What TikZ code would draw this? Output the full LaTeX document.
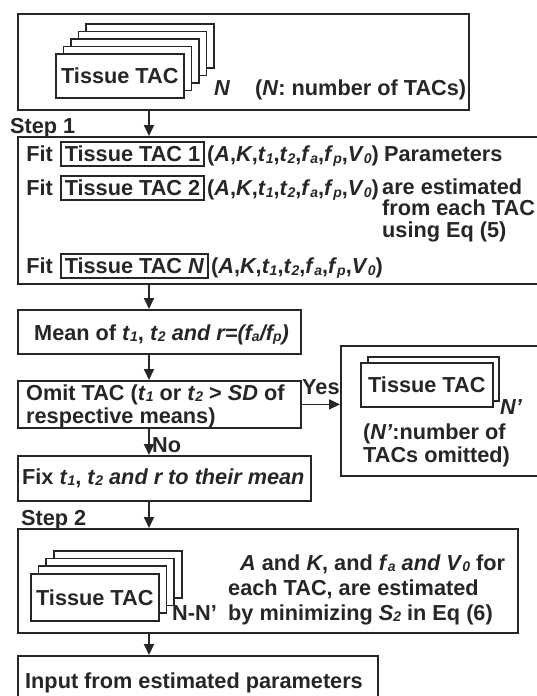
\documentclass[tikz,border=0pt]{standalone}
\usepackage{fontspec}
\setmainfont{Liberation Sans}
\usetikzlibrary{arrows.meta}
\definecolor{ink}{HTML}{262626}
\newcommand\vv[1]{\textit{#1}}
\newcommand\sbs[1]{\raisebox{-0.15ex}{\fontsize{14}{14}\selectfont\textit{#1}}}
\newcommand\parlist{(\vv{A},\vv{K},\vv{t}\sbs{1},\vv{t}\sbs{2},\vv{f}\sbs{a},\vv{f}\sbs{p},\vv{V}\sbs{0})}
\begin{document}
\begin{tikzpicture}[x=1pt,y=-1pt,
  font=\fontsize{21.7}{23}\selectfont\bfseries,
  box/.style={draw=ink, line width=1.8pt, fill=white, inner sep=0pt, anchor=north west, rectangle},
  card/.style={draw=ink, line width=1.6pt, fill=white, inner sep=0pt, anchor=north west, rectangle, text=ink},
  tb/.style={draw=ink, line width=1.5pt, inner xsep=4pt, inner ysep=0pt, minimum height=24pt, anchor=west, text=ink},
  txt/.style={anchor=base west, inner sep=0pt, text=ink},
  arr/.style={draw=ink, line width=1.8pt, -{Triangle[length=11pt,width=10pt]}}]
\useasboundingbox[fill=white] (0,0) rectangle (537,696);

% ---------- top box ----------
\node[box, minimum width=451pt, minimum height=96pt] (top) at (17,13) {};
\foreach \k in {4,3,2,1}
  \node[card, minimum width=128pt, minimum height=44pt] (tc\k) at ({55+7.5*\k},{53-7.5*\k}) {};
\node[card, minimum width=128pt, minimum height=44pt] (tc0) at (55,53) {Tissue TAC};
\node[txt] (tN) at (214,95) {\vv{N}};
\node[txt] (tNl) at (255,95) {(\vv{N}: number of TACs)};

% ---------- step 1 ----------
\node[txt] (st1) at (10,133) {Step 1};
\node[box, minimum width=560pt, minimum height=147pt] (s1) at (17,136) {};
\node[tb] (tac1) at (60,154) {Tissue TAC 1};
\node[tb] (tac2) at (60,188) {Tissue TAC 2};
\node[tb] (tacN) at (60,266) {Tissue TAC \vv{N}};
\foreach \r in {1,2,N}{
  \node[anchor=base east, inner sep=0pt, text=ink] (fit\r) at ([xshift=-7pt]tac\r.base west) {Fit};
  \node[anchor=base west, inner sep=0pt, text=ink] (par\r) at ([xshift=2pt]tac\r.base east) {\parlist};
}
\node[txt] (pa1) at (384,161) {Parameters};
\node[txt] (pa2) at (382,194) {are estimated};
\node[txt] (pa3) at (382,215) {from each TAC};
\node[txt] (pa4) at (382,237) {using Eq (5)};

% ---------- mean ----------
\node[box, minimum width=283pt, minimum height=44pt] (mean) at (17,309) {};
\node[txt] (meant) at (34,340) {Mean of \vv{t}\sbs{1}, \vv{t}\sbs{2} \textit{and r=(f\sbs{a}/f\sbs{p})}};

% ---------- omit ----------
\node[box, minimum width=283pt, minimum height=47pt] (omit) at (17,380) {};
\node[txt] (om1) at (26,400) {Omit TAC (\vv{t}\sbs{1} or \vv{t}\sbs{2} > \vv{SD} of};
\node[txt] (om2) at (26,423) {respective means)};
\node[txt] (yes) at (302,394) {Yes};

% ---------- right box ----------
\node[box, minimum width=220pt, minimum height=130pt] (rb) at (340,345) {};
\node[card, minimum width=131pt, minimum height=44pt] (rc1) at (367,356) {};
\node[card, minimum width=132pt, minimum height=44pt] (rc0) at (360,362) {Tissue TAC};
\node[txt] (rN) at (500,414) {\vv{N'}};
\node[txt] (rl1) at (363,439) {(\vv{N'}:number of};
\node[txt] (rl2) at (363,462) {TACs omitted)};

% ---------- fix ----------
\node[txt] (no) at (152,452) {No};
\node[box, minimum width=293pt, minimum height=45pt] (fix) at (17,455) {};
\node[txt] (fixt) at (22,484) {Fix \vv{t}\sbs{1}, \vv{t}\sbs{2} \textit{and r to their mean}};

% ---------- step 2 ----------
\node[txt] (st2) at (21,525) {Step 2};
\node[box, minimum width=500pt, minimum height=104pt] (s2) at (17,528) {};
\foreach \k in {3,2,1}
  \node[card, minimum width=128pt, minimum height=47pt] (sc\k) at ({30+7.7*\k},{573-7.7*\k}) {};
\node[card, minimum width=128pt, minimum height=47pt] (sc0) at (30,573) {Tissue TAC};
\node[txt] (sN) at (172,620) {N-N'};
\node[txt] (s2a) at (240,570) {\vv{A} and \vv{K}, and \vv{f}\sbs{a} \textit{and V}\sbs{0} for};
\node[txt] (s2b) at (228,595) {each TAC, are estimated};
\node[txt] (s2c) at (228,620) {by minimizing \vv{S}\sbs{2} in Eq (6)};

% ---------- final ----------
\node[box, minimum width=360pt, minimum height=100pt] (fin) at (17,655) {};
\node[txt] (fint) at (25,688) {Input from estimated parameters};

% ---------- connectors ----------
\coordinate (ax) at (149,0);
\draw[arr] (top.south -| ax) -- (s1.north -| ax);
\draw[arr] (s1.south -| ax) -- (mean.north -| ax);
\draw[arr] (mean.south -| ax) -- (omit.north -| ax);
\draw[arr] (omit.east) -- (omit.east -| rb.west);
\draw[arr] (omit.south -| ax) -- (fix.north -| ax);
\draw[arr] (fix.south -| ax) -- (s2.north -| ax);
\draw[arr] (s2.south -| ax) -- (fin.north -| ax);
\end{tikzpicture}
\end{document}
